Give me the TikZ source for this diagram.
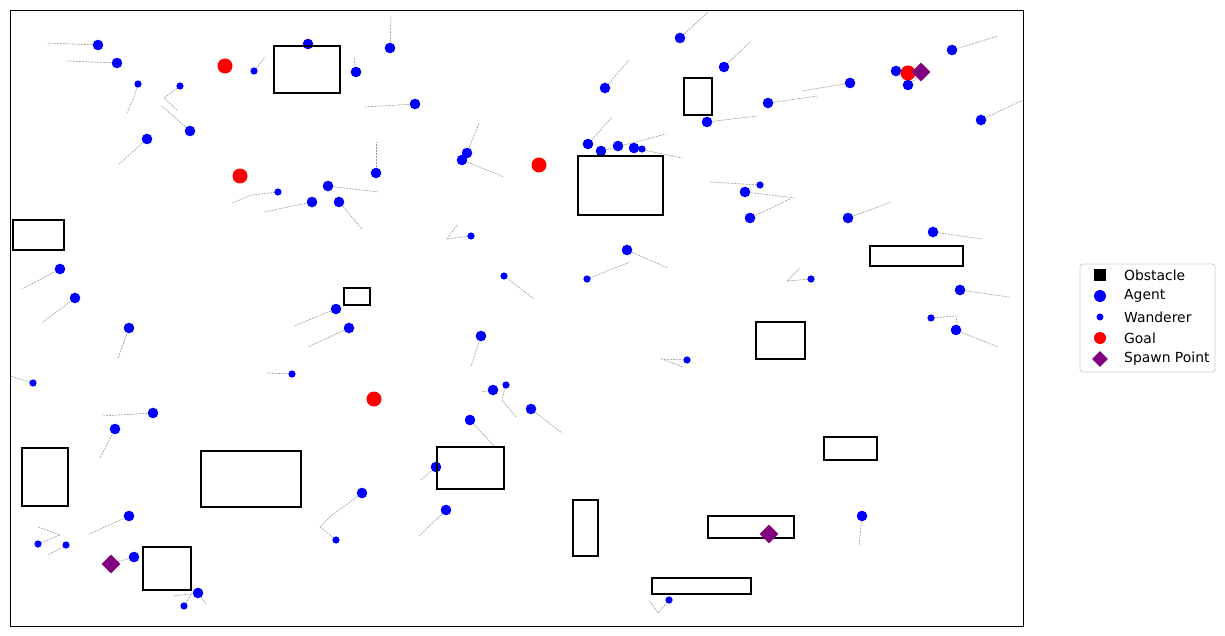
\documentclass[tikz,border=0pt]{standalone}
\usepackage{fontspec}
\setmainfont{DejaVu Sans}
\usetikzlibrary{shapes.geometric}
\definecolor{mplblue}{RGB}{0,0,255}
\definecolor{mplred}{RGB}{255,0,0}
\definecolor{mplpurple}{RGB}{128,0,128}
\definecolor{trailgray}{RGB}{150,150,150}
\definecolor{legedge}{RGB}{204,204,204}
\tikzset{
  agent/.style={circle,fill=mplblue,inner sep=0pt,minimum size=10.6pt},
  wand/.style={circle,fill=mplblue,inner sep=0pt,minimum size=7.2pt},
  goal/.style={circle,fill=mplred,inner sep=0pt,minimum size=15pt},
  spawn/.style={diamond,fill=mplpurple,inner sep=0pt,minimum width=19pt,minimum height=19pt},
  obst/.style={draw=black,line width=2pt},
  trail/.style={draw=trailgray,line width=0.55pt,dash pattern=on 2pt off 1pt},
  legtext/.style={anchor=west,inner sep=0pt,font=\fontsize{13.9}{16}\selectfont}
}
\begin{document}
\begin{tikzpicture}[x=1pt,y=-1pt]
\useasboundingbox (0,0) rectangle (1225,636);
\fill[white] (0,0) rectangle (1225,636);

% ---------- agents ----------
\foreach \n/\x/\y in {a1/98/45,a2/117/63,a3/190/131,a4/147/139,a5/312/202,a6/339/202,a7/328/186,a8/376/173,
  a9/390/48,a10/356/72,a11/415/104,a12/467/153,a13/462/160,a14/680/38,a15/724/67,a16/605/88,a17/707/122,
  a18/768/103,a19/588/144,a20/601/151,a21/618/146,a22/634/148,a23/745/192,a24/750/218,a25/850/83,
  a26/896/71,a27/908/85,a28/952/50,a29/981/120,a30/848/218,a31/933/232,a32/960/290,a33/956/330,
  a34/60/269,a35/75/298,a36/129/328,a37/153/413,a38/336/309,a39/349/328,a40/481/336,a41/493/390,
  a42/470/420,a43/627/250,a44/531/409,a45/115/429,a46/129/516,a47/134/557,a48/198/593,a49/362/493,
  a50/436/467,a51/446/510,a52/862/516,a53/308/44}
  {\coordinate (\n) at (\x,\y);}
\foreach \n/\x/\y in {w1/138/84,w2/180/86,w3/254/71,w4/278/192,w5/642/149,w6/760/185,w7/811/279,
  w8/931/318,w9/33/383,w10/292/374,w11/471/236,w12/504/276,w13/506/385,w14/587/279,w15/687/360,
  w16/38/544,w17/66/545,w18/184/606,w19/336/540,w20/669/600}
  {\coordinate (\n) at (\x,\y);}

% ---------- trails ----------
\draw[trail] (a1) -- (47,43);
\draw[trail] (a2) -- (67,61);
\draw[trail] (w1) -- (134,97) -- (127,113);
\draw[trail] (w2) -- (164,98) -- (178,111);
\draw[trail] (a3) -- (162,106);
\draw[trail] (a4) -- (119,164);
\draw[trail] (w3) -- (265,57);
\draw[trail] (w4) -- (252,195) -- (232,203);
\draw[trail] (a5) -- (264,212);
\draw[trail] (a6) -- (362,229);
\draw[trail] (a7) -- (378,192);
\draw[trail] (a8) -- (376,142);
\draw[trail] (a9) -- (391,17);
\draw[trail] (a10) -- (354,57);
\draw[trail] (a11) -- (364,107);
\draw[trail] (a12) -- (479,123);
\draw[trail] (a13) -- (504,177);
\draw[trail] (a14) -- (708,12);
\draw[trail] (a15) -- (751,41);
\draw[trail] (a16) -- (629,60);
\draw[trail] (a17) -- (757,116);
\draw[trail] (a18) -- (817,96);
\draw[trail] (a19) -- (612,117);
\draw[trail] (a20) -- (666,134);
\draw[trail] (a22) -- (682,158);
\draw[trail] (w6) -- (710,182);
\draw[trail] (a23) -- (795,198);
\draw[trail] (a24) -- (790,199);
\draw[trail] (a25) -- (802,91);
\draw[trail] (a26) -- (922,71);
\draw[trail] (a27) -- (920,75);
\draw[trail] (a28) -- (998,36);
\draw[trail] (a29) -- (1023,100);
\draw[trail] (a30) -- (891,202);
\draw[trail] (a31) -- (982,239);
\draw[trail] (w7) -- (787,281) -- (800,268);
\draw[trail] (a32) -- (1009,297);
\draw[trail] (w8) -- (956,316) -- (958,330);
\draw[trail] (a33) -- (998,347);
\draw[trail] (a34) -- (22,289);
\draw[trail] (a35) -- (43,322);
\draw[trail] (a36) -- (118,358);
\draw[trail] (w9) -- (10,376);
\draw[trail] (a37) -- (102,416);
\draw[trail] (w10) -- (267,373);
\draw[trail] (a38) -- (294,326);
\draw[trail] (a39) -- (308,347);
\draw[trail] (w11) -- (447,239) -- (457,225);
\draw[trail] (w12) -- (534,299);
\draw[trail] (a40) -- (471,366);
\draw[trail] (a41) -- (481,392);
\draw[trail] (w13) -- (502,400) -- (516,417);
\draw[trail] (a42) -- (495,447);
\draw[trail] (a43) -- (668,268);
\draw[trail] (w14) -- (630,262);
\draw[trail] (w15) -- (662,359) -- (683,367);
\draw[trail] (a44) -- (562,433);
\draw[trail] (a45) -- (100,458);
\draw[trail] (a46) -- (89,534);
\draw[trail] (w16) -- (60,535) -- (38,527);
\draw[trail] (w17) -- (48,555);
\draw[trail] (a47) -- (111,564);
\draw[trail] (a48) -- (173,596);
\draw[trail] (a48) -- (206,604);
\draw[trail] (w18) -- (192,593);
\draw[trail] (a49) -- (331,516) -- (320,527) -- (w19);
\draw[trail] (a50) -- (421,480);
\draw[trail] (a51) -- (419,536);
\draw[trail] (w20) -- (658,613) -- (649,600);
\draw[trail] (a52) -- (859,546);

% ---------- agent and wanderer markers ----------
\foreach \n in {a1,a2,a3,a4,a5,a6,a7,a8,a9,a10,a11,a12,a13,a14,a15,a16,a17,a18,a19,a20,a21,a22,a23,a24,
  a25,a26,a27,a28,a29,a30,a31,a32,a33,a34,a35,a36,a37,a38,a39,a40,a41,a42,a43,a44,a45,a46,a47,a48,a49,
  a50,a51,a52,a53}
  {\node[agent] (m\n) at (\n) {};}
\foreach \n in {w1,w2,w3,w4,w5,w6,w7,w8,w9,w10,w11,w12,w13,w14,w15,w16,w17,w18,w19,w20}
  {\node[wand] (m\n) at (\n) {};}

% ---------- obstacles ----------
\draw[obst] (274,46) rectangle (340,93);
\draw[obst] (13,220) rectangle (64,250);
\draw[obst] (344,288) rectangle (370,305);
\draw[obst] (22,448) rectangle (68,506);
\draw[obst] (201,451) rectangle (301,507);
\draw[obst] (143,547) rectangle (191,590);
\draw[obst] (437,447) rectangle (504,489);
\draw[obst] (573,500) rectangle (598,556);
\draw[obst] (652,578) rectangle (751,594);
\draw[obst] (708,516) rectangle (794,538);
\draw[obst] (824,437) rectangle (877,460);
\draw[obst] (756,322) rectangle (805,359);
\draw[obst] (870,246) rectangle (963,266);
\draw[obst] (578,156) rectangle (663,215);
\draw[obst] (684,78) rectangle (712,115);

% ---------- goals ----------
\node[goal] (g1) at (225,66) {};
\node[goal] (g2) at (240,176) {};
\node[goal] (g3) at (539,165) {};
\node[goal] (g4) at (374,399) {};
\node[goal] (g5) at (908,73) {};

% ---------- spawn points ----------
\node[spawn] (s1) at (921,72) {};
\node[spawn] (s2) at (111,564) {};
\node[spawn] (s3) at (769,534) {};

% ---------- frame ----------
\draw[black,line width=0.8pt] (10,10) rectangle (1023,626);

% ---------- legend ----------
\draw[legedge,fill=white,line width=0.8pt,rounded corners=3pt] (1080,264) rectangle (1215,372);
\node[fill=black,inner sep=0pt,minimum size=12pt] (lk1) at (1100,275) {};
\node[agent,minimum size=12pt] (lk2) at (1100,296) {};
\node[wand,minimum size=7pt] (lk3) at (1100,317) {};
\node[goal,minimum size=12pt] (lk4) at (1100,338) {};
\node[spawn,minimum width=16pt,minimum height=16pt] (lk5) at (1100,359) {};
\node[legtext] (lt1) at (1124,275) {Obstacle};
\node[legtext] (lt2) at (1124,296) {Agent};
\node[legtext] (lt3) at (1124,317) {Wanderer};
\node[legtext] (lt4) at (1124,338) {Goal};
\node[legtext] (lt5) at (1124,359) {Spawn Point};
\end{tikzpicture}
\end{document}
